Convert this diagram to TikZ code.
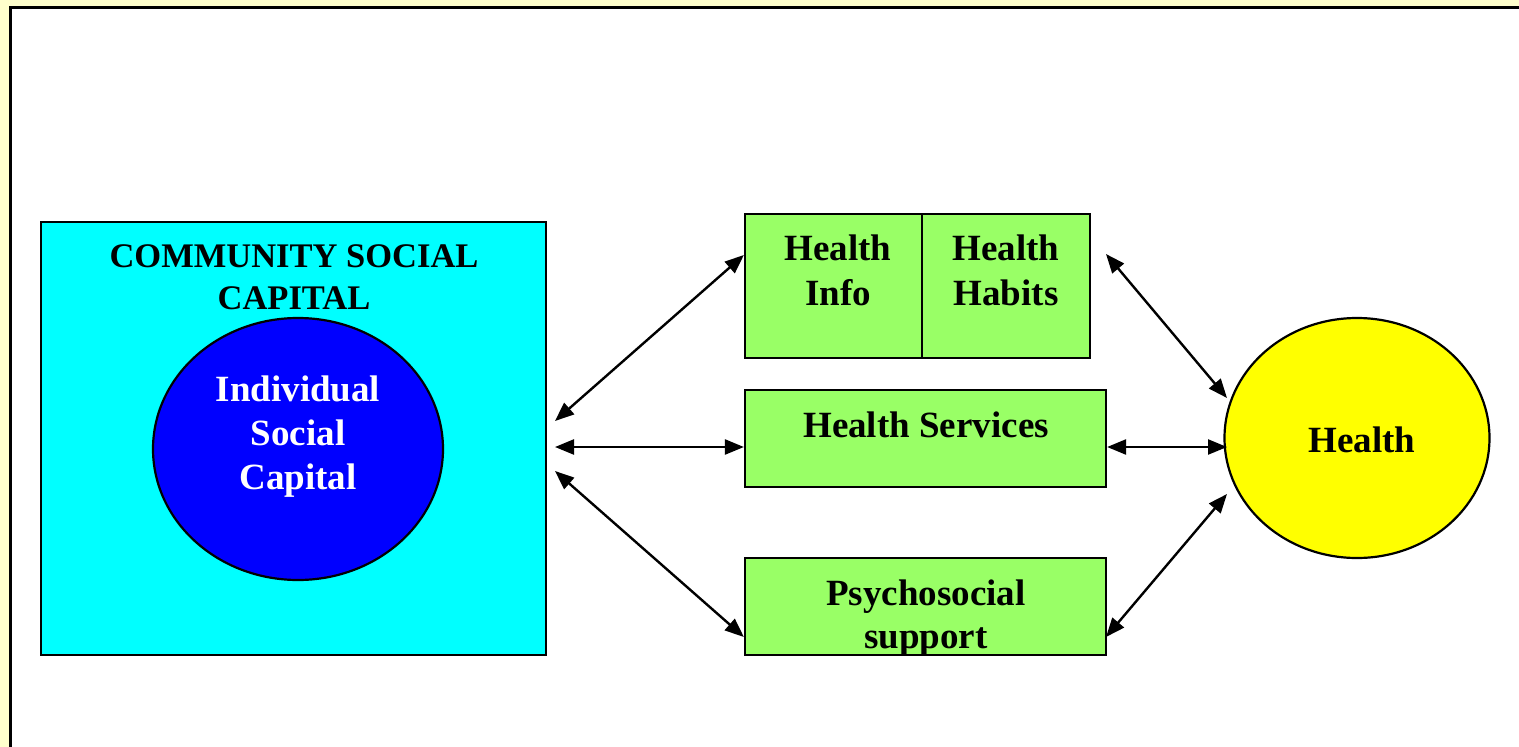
\documentclass[tikz,border=0pt]{standalone}
\usepackage{fontspec}
\setmainfont{Liberation Serif}
\usetikzlibrary{arrows.meta,shapes.geometric}
\definecolor{bgyellow}{HTML}{FFFFCC}
\definecolor{boxgreen}{HTML}{99FF66}
\definecolor{cyanfill}{HTML}{00FFFF}
\definecolor{bluefill}{HTML}{0000FF}
\definecolor{yellowfill}{HTML}{FFFF00}
\begin{document}
\begin{tikzpicture}[x=1pt,y=-1pt,
  boxstyle/.style={draw=black,line width=2.2pt,rectangle},
  lbl/.style={font=\fontsize{37}{45}\selectfont\bfseries,anchor=base,inner sep=0pt},
  conn/.style={line width=2.4pt,{Triangle[length=19pt,width=15pt]}-{Triangle[length=19pt,width=15pt]}}
]
\useasboundingbox (0,0) rectangle (1519,747);
\fill[bgyellow] (0,0) rectangle (1519,747);
\draw[fill=white,line width=3pt] (10.5,7) rectangle (1540,770);

% left box and ellipse
\node[boxstyle,fill=cyanfill,minimum width=505pt,minimum height=433pt,inner sep=0pt] (community) at (293.5,438.5) {};
\node[draw=black,line width=2.2pt,fill=bluefill,ellipse,minimum width=290pt,minimum height=262pt,inner sep=0pt] (indiv) at (298,449) {};
\node[lbl,font=\fontsize{34.5}{42}\selectfont\bfseries] (comm1) at (294,267) {COMMUNITY SOCIAL};
\node[lbl,font=\fontsize{34.5}{42}\selectfont\bfseries] (comm2) at (294,309) {CAPITAL};
\node[lbl,text=white] (ind1) at (298,401) {Individual};
\node[lbl,text=white] (ind2) at (298,445) {Social};
\node[lbl,text=white] (ind3) at (298,489) {Capital};

% green boxes
\node[boxstyle,fill=boxgreen,minimum width=177pt,minimum height=144pt,inner sep=0pt] (info) at (833.5,286) {};
\node[boxstyle,fill=boxgreen,minimum width=168pt,minimum height=144pt,inner sep=0pt] (habits) at (1006,286) {};
\node[boxstyle,fill=boxgreen,minimum width=361pt,minimum height=97pt,inner sep=0pt] (services) at (925.5,438.5) {};
\node[boxstyle,fill=boxgreen,minimum width=361pt,minimum height=97pt,inner sep=0pt] (psycho) at (925.5,606.5) {};

\node[lbl] (info1) at (838,260) {Health};
\node[lbl] (info2) at (838,305) {Info};
\node[lbl] (hab1) at (1006,260) {Health};
\node[lbl] (hab2) at (1006,305) {Habits};
\node[lbl] (serv) at (926,437) {Health Services};
\node[lbl] (psy1) at (926,605) {Psychosocial};
\node[lbl] (psy2) at (926,648) {support};

% health ellipse
\node[draw=black,line width=2.2pt,fill=yellowfill,ellipse,minimum width=265pt,minimum height=240pt,inner sep=0pt] (health) at (1357,438) {};
\node[lbl] (healthlbl) at (1362,452) {Health};

% connector end points
\coordinate (l1) at (555,421);
\coordinate (l2) at (555,447);
\coordinate (l3) at (555,471);
\coordinate (r1) at (1106,254);
\coordinate (h1) at (1227,398);
\coordinate (h2) at (1227,447);
\coordinate (h3) at (1227,494);
\coordinate (r3) at (1106,637);

\draw[conn] (l1) -- (info.west |- 0,255);
\draw[conn] (l2) -- (services.west |- 0,447);
\draw[conn] (l3) -- (psycho.west |- 0,637);
\draw[conn] (r1) -- (h1);
\draw[conn] (services.east |- 0,447) -- (h2);
\draw[conn] (h3) -- (r3);
\end{tikzpicture}
\end{document}
